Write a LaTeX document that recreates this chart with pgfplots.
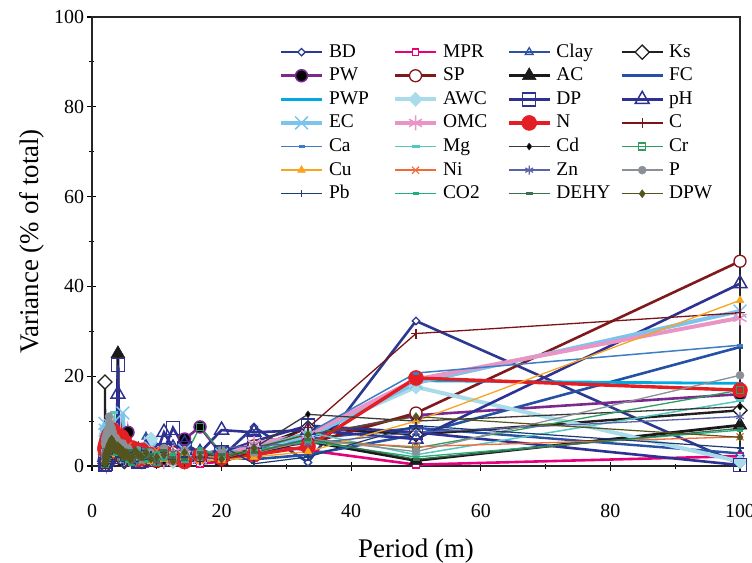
\documentclass[border=0pt]{standalone}
\usepackage{fontspec}
\IfFontExistsTF{LiberationSerif-Regular.ttf}{\setmainfont{LiberationSerif-Regular.ttf}[BoldFont=LiberationSerif-Bold.ttf]}{\setmainfont{Liberation Serif}}
\usepackage{pgfplots}
\usepackage{pgfplotstable}
\pgfplotsset{compat=1.18}
\usetikzlibrary{plotmarks}

\definecolor{cBD}{HTML}{2B3990}
\definecolor{cMPR}{HTML}{E5007D}
\definecolor{cClay}{HTML}{2A52A3}
\definecolor{cKs}{HTML}{231F20}
\definecolor{cPW}{HTML}{7A2A8E}
\definecolor{cSP}{HTML}{80191C}
\definecolor{cAC}{HTML}{1A1A1A}
\definecolor{cFC}{HTML}{2451A4}
\definecolor{cPWP}{HTML}{00A9E0}
\definecolor{cAWC}{HTML}{A9DCE8}
\definecolor{cDP}{HTML}{2E3192}
\definecolor{cpH}{HTML}{2E3192}
\definecolor{cEC}{HTML}{7CC4EC}
\definecolor{cOMC}{HTML}{E895C6}
\definecolor{cN}{HTML}{E31E24}
\definecolor{cC}{HTML}{7B1416}
\definecolor{cCa}{HTML}{3C7DC4}
\definecolor{cMg}{HTML}{54C7BE}
\definecolor{cCd}{HTML}{3A3A3A}
\definecolor{cCr}{HTML}{2E9D5E}
\definecolor{cCu}{HTML}{F8A51D}
\definecolor{cNi}{HTML}{F26A3A}
\definecolor{cZn}{HTML}{5A63A8}
\definecolor{cP}{HTML}{8A9096}
\definecolor{cPb}{HTML}{1F3B73}
\definecolor{cCO}{HTML}{21B07A}
\definecolor{cDEHY}{HTML}{3D6F52}
\definecolor{cDPW}{HTML}{55541E}

\pgfplotstableread{
x BD MPR Clay Ks PW SP AC FC PWP AWC DP pH EC OMC N C Ca Mg Cd Cr Cu Ni Zn P Pb CO DEHY DPW
100 0.4 2.2 2.8 12.4 16.0 45.6 9.1 26.5 18.4 1.0 0.2 40.6 34.5 33.0 16.9 34.1 26.9 14.5 13.2 16.9 36.9 6.5 11.0 20.2 4.0 8.0 8.4 6.4
50 32.3 0.3 8.5 7.0 11.3 11.8 1.2 7.0 19.0 17.6 7.5 6.0 18.5 19.3 19.6 29.5 20.7 2.5 10.0 4.0 10.0 4.3 7.5 3.2 9.0 2.0 1.5 11.0
33.333 0.8 3.5 6.0 8.5 6.5 5.0 5.5 2.5 6.0 7.0 9.0 8.0 6.5 7.0 4.3 8.5 7.3 7.5 11.5 6.0 3.2 5.5 5.0 6.0 2.0 5.5 6.0 7.0
25 8.7 5.0 2.0 4.0 3.5 4.5 3.0 1.5 3.0 3.5 5.5 7.5 4.5 5.0 2.5 3.0 3.5 4.0 4.0 3.0 2.0 3.0 4.5 3.0 0.5 3.5 3.0 4.0
20 2.0 1.0 3.0 1.5 2.5 1.2 1.0 2.0 1.5 2.0 3.0 8.0 2.5 2.0 1.8 1.5 2.0 1.5 2.0 3.0 1.3 2.5 4.0 3.5 4.5 2.0 2.5 1.5
16.667 3.0 0.5 2.5 2.0 8.7 2.0 1.5 1.0 2.0 1.5 2.0 3.0 2.0 1.5 2.4 2.0 1.5 2.5 3.0 8.7 1.0 1.5 2.5 3.0 1.0 4.0 3.0 2.0
14.286 4.0 2.0 1.5 1.0 6.0 1.5 2.0 3.0 1.0 2.5 4.0 5.0 3.5 2.5 1.0 1.0 2.5 1.0 1.5 2.0 2.0 3.0 1.5 3.5 2.0 1.0 1.5 3.0
12.5 2.5 1.5 4.0 2.5 2.0 3.0 1.0 2.0 2.5 1.0 8.5 4.0 1.5 3.0 2.0 2.5 1.0 3.0 2.5 1.5 3.0 1.0 3.0 2.0 1.5 2.5 2.0 1.0
11.111 1.5 3.0 2.0 3.5 1.5 2.0 2.5 1.5 3.0 3.0 3.5 7.5 3.0 1.0 3.0 1.5 3.0 2.0 1.0 2.5 1.5 2.0 2.0 4.0 3.0 1.5 3.5 2.5
10 3.5 1.0 3.0 1.5 3.0 1.0 1.5 2.5 1.5 2.0 2.5 3.0 2.0 2.5 1.5 3.0 2.0 1.5 2.0 1.0 2.5 3.5 1.0 2.5 1.0 3.0 1.0 2.0
9.091 2.0 2.5 1.0 2.0 2.0 2.5 3.0 1.0 2.0 6.0 1.5 2.0 4.0 2.0 2.5 2.0 1.5 2.5 3.0 2.0 1.0 1.5 2.5 3.0 2.5 2.0 2.5 1.5
8.333 1.0 1.5 6.5 3.0 1.0 1.5 2.0 3.0 1.0 3.5 2.0 4.0 1.5 3.5 2.0 1.0 2.5 3.5 1.5 3.0 2.0 2.5 1.5 2.0 1.5 1.0 2.0 3.0
7.692 2.5 2.0 2.0 1.0 2.5 3.5 1.0 2.0 3.0 1.5 3.0 2.5 3.0 1.5 3.5 2.5 1.0 2.0 2.5 1.5 3.0 1.0 3.5 1.5 3.5 2.5 1.5 2.0
7.143 1.5 1.0 3.5 2.5 3.5 2.0 2.5 1.5 2.0 2.5 1.0 3.5 2.0 2.5 1.5 2.0 3.0 1.0 2.0 2.5 1.5 3.0 2.0 3.5 2.0 3.5 3.0 2.5
6.667 3.0 2.5 1.5 2.0 1.5 1.0 1.5 2.5 1.5 2.0 2.5 1.5 3.5 2.0 2.5 1.5 2.0 3.0 1.0 2.0 2.5 2.0 1.0 2.5 1.0 2.0 2.0 3.5
6.25 2.0 1.5 2.5 3.0 2.0 2.5 3.0 1.0 2.5 3.0 2.0 3.0 2.5 3.0 4.0 3.0 1.5 2.0 2.5 1.0 2.0 3.5 2.5 2.0 2.5 1.5 1.0 2.0
5.882 1.0 3.0 2.0 1.5 4.0 1.5 2.0 2.0 1.0 1.5 3.5 2.0 1.5 1.5 2.0 2.0 2.5 1.5 3.5 3.0 3.5 1.5 2.0 3.0 1.5 2.5 2.5 1.5
5.556 2.5 2.0 3.0 2.5 7.5 3.0 1.5 3.0 2.0 2.5 1.5 2.5 3.0 2.5 3.0 1.0 2.0 2.5 1.5 2.0 1.5 4.5 3.0 4.0 3.0 1.0 3.5 2.5
5.263 1.5 1.0 1.5 2.0 3.0 2.0 2.5 1.5 3.0 2.0 2.0 3.5 2.0 4.0 2.5 2.5 3.5 3.0 2.0 1.5 2.5 2.0 1.5 2.5 2.0 3.0 2.0 3.0
5 3.0 2.5 2.5 1.0 2.5 2.5 1.0 2.5 1.5 3.5 2.5 2.0 4.0 2.0 5.5 1.5 1.5 2.0 3.0 2.5 4.0 3.0 2.5 3.5 1.0 2.0 1.5 2.0
4.762 2.0 1.5 3.5 3.5 2.0 1.5 3.5 2.0 2.5 2.5 3.0 4.0 11.8 3.0 3.5 3.0 2.5 4.0 2.5 3.5 2.0 2.5 3.5 5.0 2.5 3.5 3.0 3.5
4.545 3.5 3.0 2.0 2.0 3.5 3.5 2.0 3.5 2.0 4.5 2.0 3.0 3.5 2.5 6.5 2.0 3.0 2.5 2.0 2.0 3.0 5.0 2.0 4.5 3.5 2.5 2.5 2.5
4.348 2.5 2.0 3.0 2.5 4.5 2.5 3.0 2.5 3.5 3.0 3.5 5.0 3.0 4.5 4.0 3.5 2.0 3.5 3.5 3.0 2.5 3.5 3.0 3.0 2.0 3.0 3.5 4.0
4.167 4.0 2.5 4.5 3.0 3.0 3.0 6.0 3.0 2.5 3.5 6.0 6.0 4.5 3.5 3.0 2.5 3.5 3.0 3.0 4.0 3.5 3.0 4.0 4.0 3.0 4.0 3.0 3.0
4 3.0 3.5 5.0 4.0 3.5 4.0 25.0 4.0 3.0 4.0 22.5 16.0 5.0 4.0 5.0 3.0 4.0 4.5 4.0 3.5 6.0 4.0 3.5 5.5 3.5 3.5 4.0 4.5
3.846 3.0 2.0 3.5 3.0 4.0 3.0 4.0 3.0 3.5 4.5 4.0 5.0 4.0 4.5 4.5 2.0 3.0 4.5 3.5 4.0 3.5 5.0 4.0 4.5 2.5 4.0 3.5 3.5
3.704 4.0 3.0 3.5 3.5 3.0 2.5 3.0 2.5 3.0 3.5 3.0 4.0 5.5 3.5 5.5 3.0 4.0 3.5 2.5 3.0 2.5 3.5 4.5 6.0 3.5 2.5 4.0 4.5
3.571 2.5 3.5 2.5 3.0 4.0 4.0 2.5 4.0 2.5 5.0 4.0 3.0 5.0 5.5 4.5 3.5 3.0 5.5 3.5 4.5 4.0 3.0 3.5 4.5 2.5 4.5 3.5 3.5
3.448 4.5 3.0 4.0 4.5 3.0 2.5 4.0 3.0 4.0 4.0 3.0 4.5 6.5 5.0 6.0 2.5 4.5 12.0 2.5 5.5 4.5 4.5 5.0 6.5 4.0 3.5 4.5 5.0
3.333 3.5 2.0 5.0 4.0 4.5 4.5 3.0 3.5 4.5 5.5 4.5 3.5 6.0 6.5 6.5 4.0 3.5 5.0 4.0 4.0 5.0 4.0 5.5 5.5 3.0 5.0 4.0 4.0
3.226 5.0 2.5 3.5 5.0 3.5 3.5 4.5 4.5 3.5 4.5 3.5 5.5 7.5 6.0 8.0 3.0 5.0 6.5 3.0 5.0 4.0 5.5 4.5 7.5 4.5 4.0 5.0 5.5
3.125 4.0 4.0 4.5 3.5 5.0 5.0 3.5 4.0 5.0 6.0 5.0 5.0 7.0 7.5 7.0 4.5 4.0 6.0 4.5 4.5 4.5 5.0 6.0 7.0 3.5 5.5 4.5 4.5
3.030 5.5 3.0 5.5 5.5 4.0 4.0 5.0 5.0 4.0 5.0 5.5 6.0 8.0 7.0 5.5 3.5 5.5 7.5 3.5 6.0 5.5 6.0 5.0 8.5 5.0 4.5 5.5 6.0
2.941 4.0 4.0 4.5 4.0 5.0 5.0 5.0 4.0 5.0 6.0 4.0 6.0 8.0 7.5 6.0 4.5 4.0 6.5 4.5 4.5 4.5 4.0 6.0 7.5 3.5 5.5 4.5 4.5
2.857 5.0 2.5 5.0 5.0 3.5 3.5 4.0 4.5 3.5 4.5 5.0 5.0 9.0 6.5 5.0 3.0 5.0 7.0 3.0 5.5 5.0 5.5 4.5 9.0 4.5 4.0 5.0 5.5
2.778 3.5 3.5 4.0 3.5 4.5 4.5 4.5 3.5 4.5 5.5 3.5 5.5 7.5 7.0 6.5 4.0 3.5 6.0 4.0 4.0 4.0 4.5 5.5 8.0 3.0 5.0 4.0 4.0
2.703 4.5 2.0 4.5 4.5 3.0 3.0 3.5 4.0 3.0 4.0 4.5 4.5 8.5 6.0 5.5 2.5 4.5 6.5 2.5 5.0 5.5 5.0 4.0 9.5 4.0 3.5 4.5 5.0
2.632 3.0 3.0 3.5 3.0 4.0 4.0 4.0 3.0 4.0 5.0 3.0 5.0 7.0 6.5 7.0 3.5 3.0 5.5 3.5 3.5 4.5 4.0 5.0 11.0 2.5 4.5 3.5 3.5
2.564 4.0 2.5 4.0 4.0 2.5 2.5 3.0 3.5 2.5 3.5 4.0 4.0 8.0 5.5 6.0 2.0 4.0 6.0 2.0 4.5 5.0 4.5 3.5 8.5 3.5 3.0 4.0 4.5
2.5 2.5 3.5 3.0 2.5 3.5 3.5 3.5 2.5 3.5 4.5 2.5 4.5 6.5 6.0 6.5 3.0 2.5 5.0 3.0 3.0 4.0 3.5 4.5 7.5 2.0 4.0 3.0 3.0
2.439 3.5 2.0 3.5 3.5 2.0 2.0 2.5 3.0 2.0 3.0 3.5 3.5 7.5 5.0 5.5 1.5 3.5 5.5 1.5 4.0 4.5 4.0 3.0 8.0 3.0 2.5 3.5 4.0
2.381 2.0 3.0 2.5 2.0 3.0 3.0 3.0 2.0 3.0 4.0 2.0 4.0 6.0 5.5 6.0 2.5 2.0 4.5 2.5 2.5 3.5 3.0 4.0 7.0 1.5 3.5 2.5 2.5
2.326 3.0 1.5 3.0 3.0 1.5 1.5 2.0 2.5 1.5 2.5 3.0 3.0 7.0 4.5 5.0 1.0 3.0 5.0 1.0 3.5 4.0 3.5 2.5 7.5 2.5 2.0 3.0 3.5
2.273 1.5 2.5 2.0 2.5 2.5 2.5 2.5 1.5 2.5 3.5 1.5 3.5 5.5 5.0 5.5 2.0 1.5 4.0 2.0 2.0 3.0 2.5 3.5 6.5 1.0 3.0 2.0 2.0
2.222 2.5 1.0 2.5 2.5 1.0 1.0 1.5 2.0 1.0 2.0 2.5 2.5 6.5 4.0 4.5 0.5 2.5 4.5 0.5 3.0 3.5 3.0 2.0 7.0 2.0 1.5 2.5 3.0
2.174 1.0 2.0 1.5 2.0 2.0 2.0 2.0 1.0 2.0 3.0 1.0 3.0 5.0 4.5 5.0 1.5 1.0 3.5 1.5 1.5 2.5 2.0 3.0 6.0 0.5 2.5 1.5 1.5
2.128 2.0 0.5 2.0 1.5 0.5 0.5 1.0 1.5 0.5 1.5 2.0 2.0 6.0 3.5 4.0 0.3 2.0 4.0 0.3 2.5 3.0 2.5 1.5 6.5 1.5 1.0 2.0 2.5
2.083 0.5 1.5 1.0 2.5 1.5 1.5 1.5 0.5 1.5 2.5 0.5 2.5 7.0 4.0 4.5 1.0 0.5 3.0 1.0 1.0 2.0 1.5 2.5 5.5 0.3 2.0 1.0 1.0
2.041 1.5 0.3 1.5 1.0 0.3 0.3 0.5 1.0 0.3 1.0 1.5 1.5 8.0 3.0 3.5 0.2 1.5 3.5 0.2 2.0 2.5 2.0 1.0 6.0 1.0 0.5 1.5 2.0
2 0.3 1.0 0.5 18.7 1.0 1.0 1.0 0.3 1.0 2.0 0.3 2.0 9.5 3.5 4.0 0.5 0.3 2.5 0.5 0.5 1.5 1.0 2.0 5.0 0.2 1.5 0.5 0.5
}\datatable

\begin{document}
\begin{tikzpicture}
\begin{axis}[
  width=648bp, height=449bp, scale only axis,
  xmin=0, xmax=100, ymin=0, ymax=100,
  xtick={0,20,...,100}, ytick={0,20,...,100},
  minor x tick num=1, minor y tick num=1,
  tick pos=left, tick align=center,
  major tick length=9bp, minor tick length=5bp,
  every tick/.style={line width=1.2bp, black},
  axis line style={line width=2bp, black!85},
  /pgf/number format/assume math mode=true,
  tick label style={font=\rmfamily\fontsize{20}{24}\selectfont},
  xticklabel style={anchor=center, yshift=-40bp},
  label style={font=\rmfamily\fontsize{27}{32}\selectfont},
  xlabel={Period (m)}, ylabel={Variance (\% of total)},
  xlabel style={at={(axis description cs:0.5,-0.189)}, anchor=center},
  ylabel style={at={(axis description cs:-0.093,0.5)}, anchor=center},
  clip=false,
  legend columns=4,
  legend cell align=left,
  legend image code/.code={\draw[mark repeat=2,mark phase=2,#1] plot coordinates {(0bp,0bp) (20.5bp,0bp) (41bp,0bp)};},
  legend style={draw=none, fill=none, inner sep=0pt, outer sep=0pt,
    at={(rel axis cs:0.2886,0.944)}, anchor=north west,
    font=\rmfamily\fontsize{19.5}{23}\selectfont,
    nodes={inner sep=0pt, text height=15bp, text depth=5bp, text width=64bp},
    row sep=3.6bp,
    /tikz/every odd column/.style={column sep=5bp}},
]
\addplot[cBD, line width=2.6bp, mark=square*, mark size=2.6bp, mark options={rotate=45, fill=white, line width=1.3bp}] table[x=x,y=BD]{\datatable};
\addlegendentry{BD}
\addplot[cMPR, line width=2.6bp, mark=square*, mark size=3.2bp, mark options={fill=white, line width=1.3bp}] table[x=x,y=MPR]{\datatable};
\addlegendentry{MPR}
\addplot[cClay, line width=2.4bp, mark=triangle, mark size=4.5bp, mark options={line width=1.3bp}] table[x=x,y=Clay]{\datatable};
\addlegendentry{Clay}
\addplot[cKs, line width=2.4bp, mark=square*, mark size=5bp, mark options={rotate=45, fill=white, line width=1.3bp}] table[x=x,y=Ks]{\datatable};
\addlegendentry{Ks}
\addplot[cPW, line width=2.6bp, mark=*, mark size=6bp, mark options={fill=black, draw=cPW, line width=1.5bp}] table[x=x,y=PW]{\datatable};
\addlegendentry{PW}
\addplot[cSP, line width=2.6bp, mark=*, mark size=6bp, mark options={fill=white, line width=1.3bp}] table[x=x,y=SP]{\datatable};
\addlegendentry{SP}
\addplot[cAC, line width=2.8bp, mark=triangle*, mark size=8bp, mark options={line width=0.5bp}] table[x=x,y=AC]{\datatable};
\addlegendentry{AC}
\addplot[cFC, line width=2.6bp, mark=-, mark size=3bp, mark options={line width=3.5bp}] table[x=x,y=FC]{\datatable};
\addlegendentry{FC}
\addplot[cPWP, line width=2.8bp, mark=-, mark size=3bp, mark options={line width=3.5bp}] table[x=x,y=PWP]{\datatable};
\addlegendentry{PWP}
\addplot[cAWC, line width=4bp, mark=square*, mark size=5bp, mark options={rotate=45, line width=0.5bp}] table[x=x,y=AWC]{\datatable};
\addlegendentry{AWC}
\addplot[cDP, line width=2.6bp, mark=square, mark size=6.5bp, mark options={line width=1.5bp}] table[x=x,y=DP]{\datatable};
\addlegendentry{DP}
\addplot[cpH, line width=2.6bp, mark=triangle, mark size=8bp, mark options={line width=1.5bp}] table[x=x,y=pH]{\datatable};
\addlegendentry{pH}
\addplot[cEC, line width=4bp, mark=x, mark size=9bp, mark options={line width=1.5bp}] table[x=x,y=EC]{\datatable};
\addlegendentry{EC}
\addplot[cOMC, line width=4bp, mark=asterisk, mark size=7.5bp, mark options={line width=1.5bp}] table[x=x,y=OMC]{\datatable};
\addlegendentry{OMC}
\addplot[cN, line width=3.4bp, mark=*, mark size=7.5bp, mark options={line width=0.5bp}] table[x=x,y=N]{\datatable};
\addlegendentry{N}
\addplot[cC, line width=1.3bp, mark=+, mark size=5bp, mark options={line width=1.2bp}] table[x=x,y=C]{\datatable};
\addlegendentry{C}
\addplot[cCa, line width=1.5bp, mark=-, mark size=3bp, mark options={line width=3bp}] table[x=x,y=Ca]{\datatable};
\addlegendentry{Ca}
\addplot[cMg, line width=1.5bp, mark=-, mark size=4bp, mark options={line width=3bp}] table[x=x,y=Mg]{\datatable};
\addlegendentry{Mg}
\addplot[cCd, line width=1.3bp, mark=diamond*, mark size=3.5bp, mark options={line width=0.5bp, fill=black}] table[x=x,y=Cd]{\datatable};
\addlegendentry{Cd}
\addplot[cCr, line width=1.3bp, mark=square, mark size=3.5bp, mark options={line width=1.2bp}] table[x=x,y=Cr]{\datatable};
\addlegendentry{Cr}
\addplot[cCu, line width=1.3bp, mark=triangle*, mark size=4.5bp, mark options={line width=0.5bp}] table[x=x,y=Cu]{\datatable};
\addlegendentry{Cu}
\addplot[cNi, line width=1.3bp, mark=x, mark size=5bp, mark options={line width=1.2bp}] table[x=x,y=Ni]{\datatable};
\addlegendentry{Ni}
\addplot[cZn, line width=1.3bp, mark=asterisk, mark size=4.5bp, mark options={line width=1.2bp}] table[x=x,y=Zn]{\datatable};
\addlegendentry{Zn}
\addplot[cP, line width=1.3bp, mark=*, mark size=4bp, mark options={line width=0.5bp}] table[x=x,y=P]{\datatable};
\addlegendentry{P}
\addplot[cPb, line width=1.2bp, mark=+, mark size=3.5bp, mark options={line width=1.2bp}] table[x=x,y=Pb]{\datatable};
\addlegendentry{Pb}
\addplot[cCO, line width=1.3bp, mark=-, mark size=3bp, mark options={line width=3bp}] table[x=x,y=CO]{\datatable};
\addlegendentry{CO2}
\addplot[cDEHY, line width=1.3bp, mark=-, mark size=3.5bp, mark options={line width=3bp}] table[x=x,y=DEHY]{\datatable};
\addlegendentry{DEHY}
\addplot[cDPW, line width=1.2bp, mark=diamond*, mark size=4bp, mark options={line width=0.5bp}] table[x=x,y=DPW]{\datatable};
\addlegendentry{DPW}
\coordinate (ll) at (rel axis cs:0,0);
\coordinate (ur) at (rel axis cs:1,1);
\end{axis}
\pgfresetboundingbox
\path ([shift={(-92bp,-97bp)}]ll) rectangle ([shift={(12bp,17bp)}]ur);
\end{tikzpicture}
\end{document}
